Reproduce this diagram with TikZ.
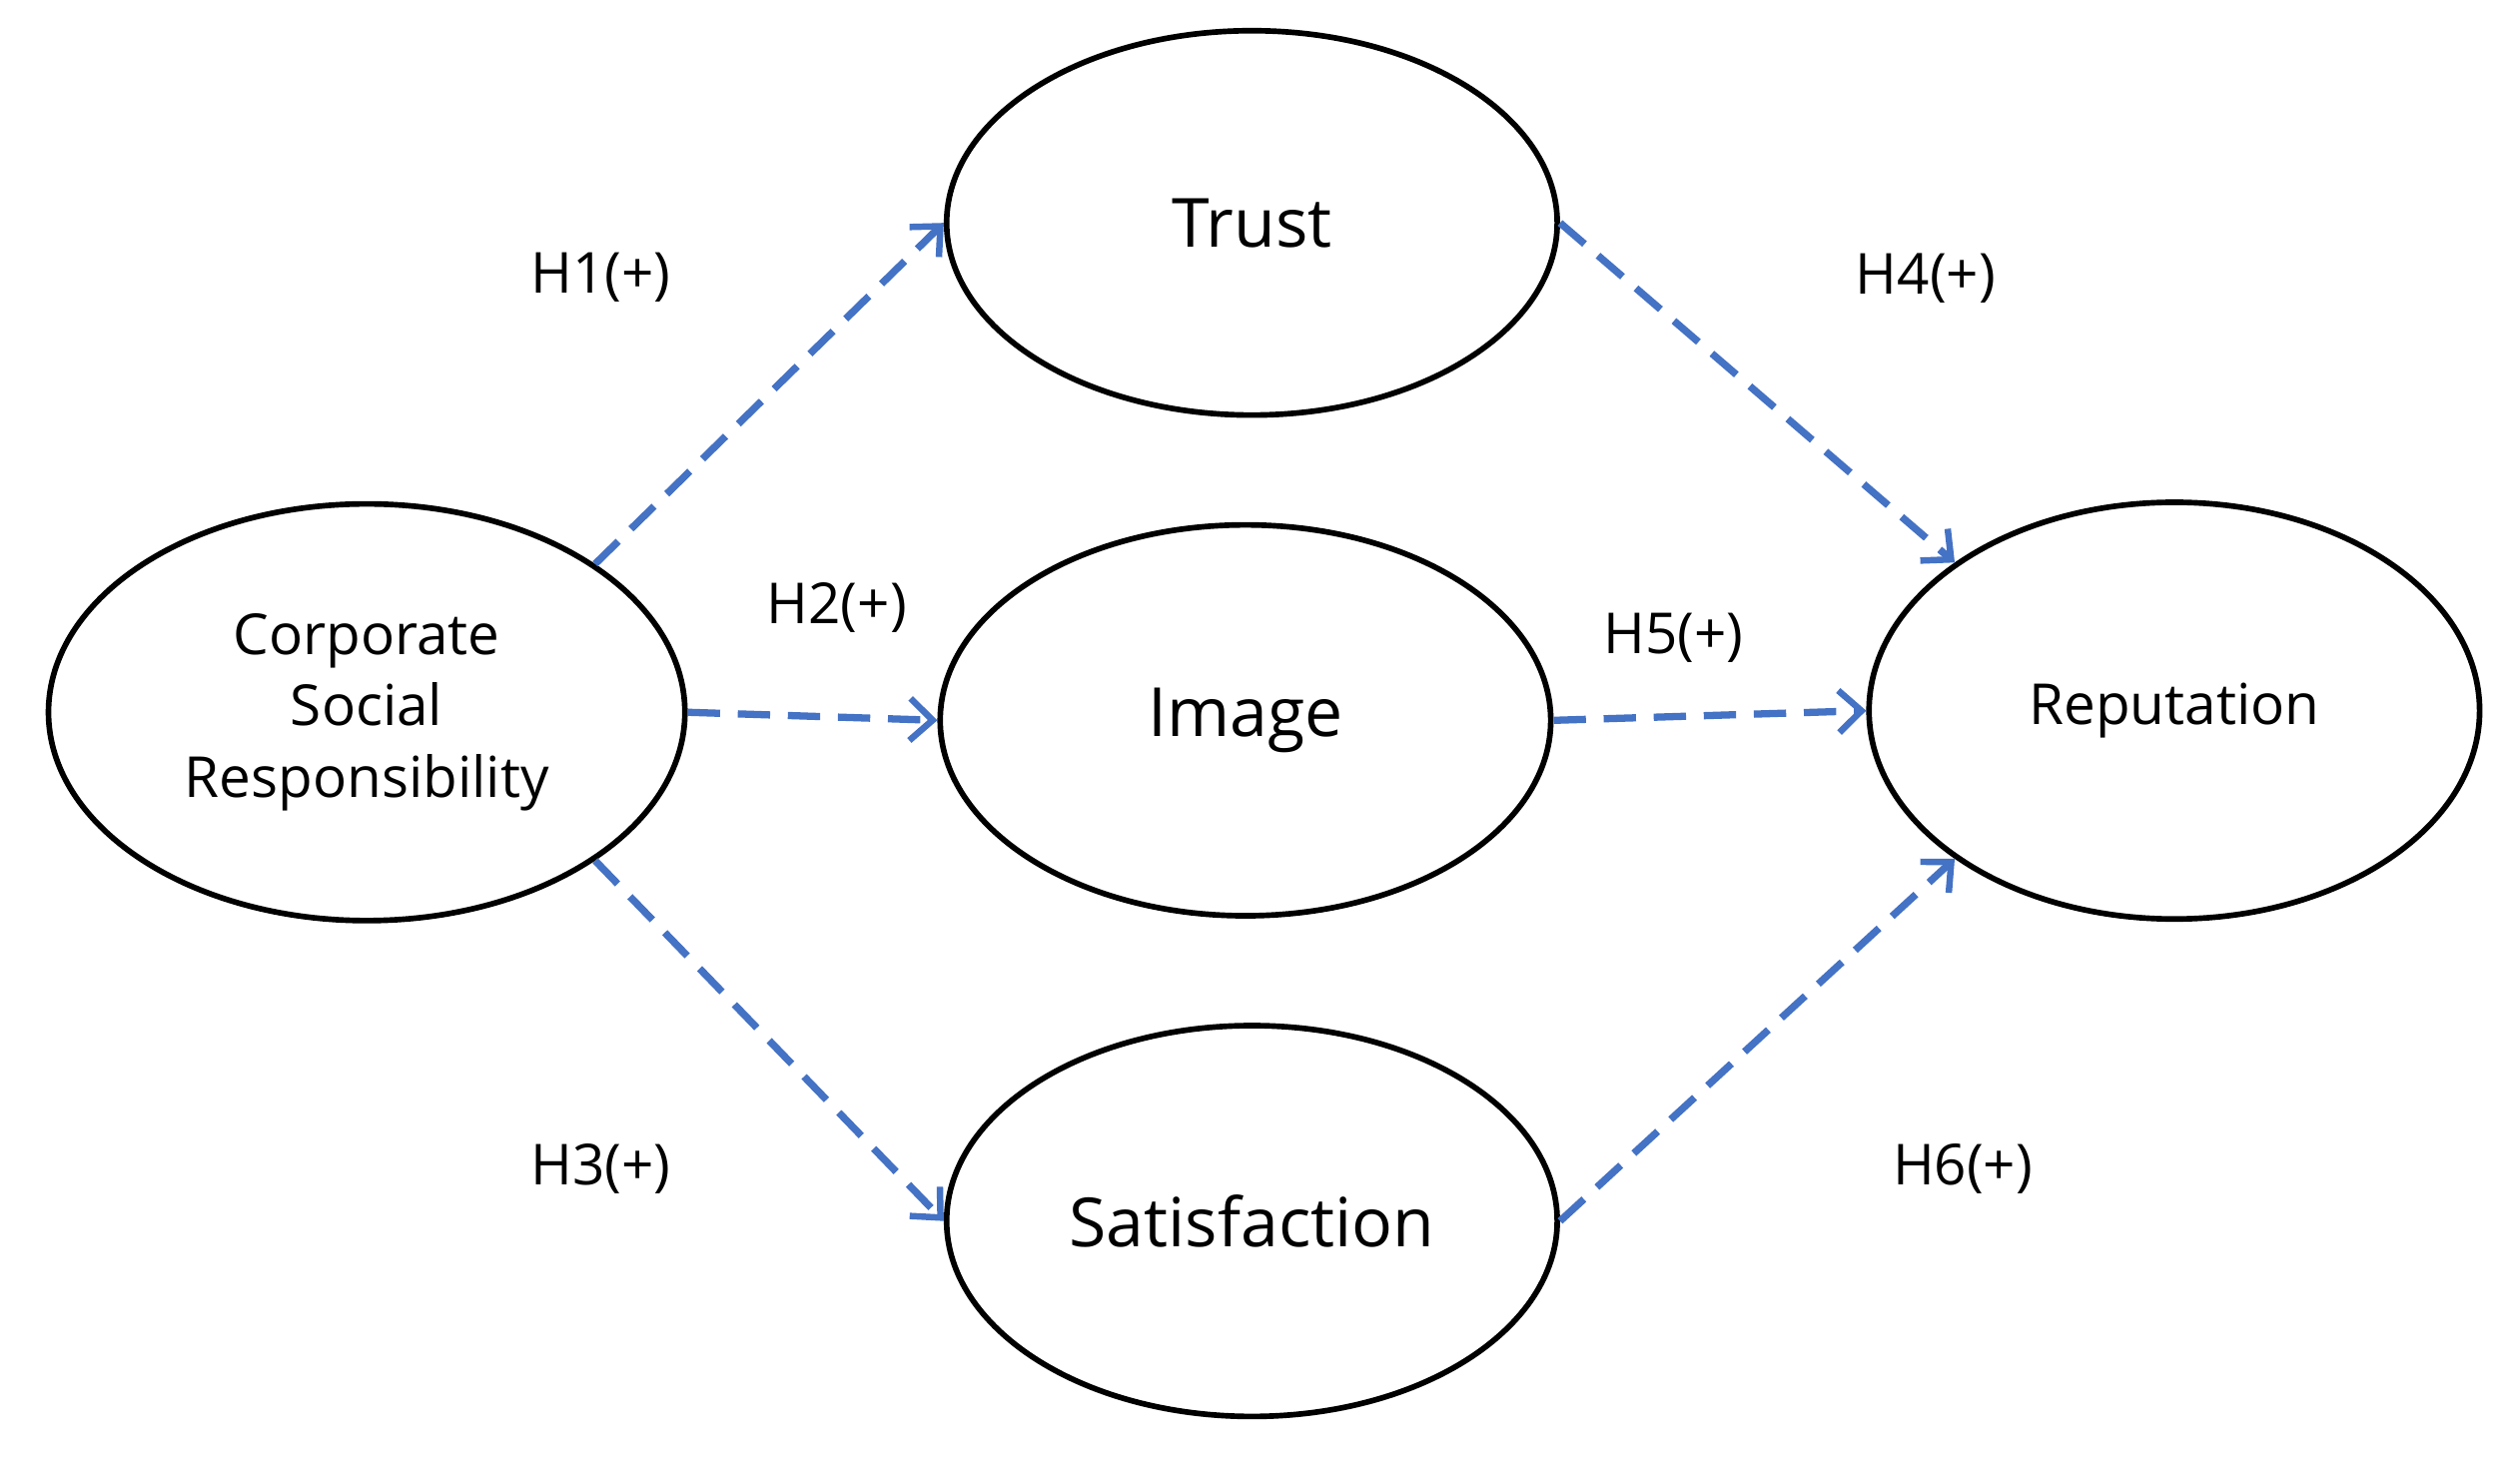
\documentclass[tikz,border=0pt]{standalone}
\usepackage{fontspec}
\setmainfont{Open Sans}
\usetikzlibrary{shapes.geometric,arrows.meta}
\begin{document}
\begin{tikzpicture}[x=1pt,y=-1pt,
  el/.style={ellipse,draw,line width=3.5pt,inner sep=0pt,align=center,font=\fontsize{35}{44}\selectfont},
  arr/.style={draw={rgb,255:red,68;green,114;blue,196},line width=4.5pt,dash pattern=on 20pt off 11pt,-{Straight Barb[length=14pt,width=26pt,line width=4pt]}},
  lab/.style={font=\fontsize{35}{40}\selectfont}]
\useasboundingbox (0,0) rectangle (1560,905);
\node[el,minimum width=394pt,minimum height=258pt] (csr) at (227,441) {Corporate\\Social\\Responsibility};
\node[el,minimum width=378pt,minimum height=238pt,font=\fontsize{42}{50}\selectfont] (trust) at (775,138) {Trust};
\node[el,minimum width=378pt,minimum height=242pt,font=\fontsize{42}{50}\selectfont] (image) at (771,446) {Image};
\node[el,minimum width=378pt,minimum height=242pt,font=\fontsize{42}{50}\selectfont] (sat) at (775,756) {Satisfaction};
\node[el,minimum width=378pt,minimum height=258pt] (rep) at (1346,440) {Reputation};
\draw[arr] (csr.33) -- (trust.180);
\draw[arr] (csr.0) -- (image.180);
\draw[arr] (csr.-33) -- (sat.180);
\draw[arr] (trust.0) -- (rep.146);
\draw[arr] (image.0) -- (rep.180);
\draw[arr] (sat.0) -- (rep.214);
\node[lab] (h1) at (372,172) {H1(+)};
\node[lab] (h2) at (518,376) {H2(+)};
\node[lab] (h3) at (372,724) {H3(+)};
\node[lab] (h4) at (1192,172) {H4(+)};
\node[lab] (h5) at (1036,395) {H5(+)};
\node[lab] (h6) at (1215,724) {H6(+)};
\end{tikzpicture}
\end{document}
